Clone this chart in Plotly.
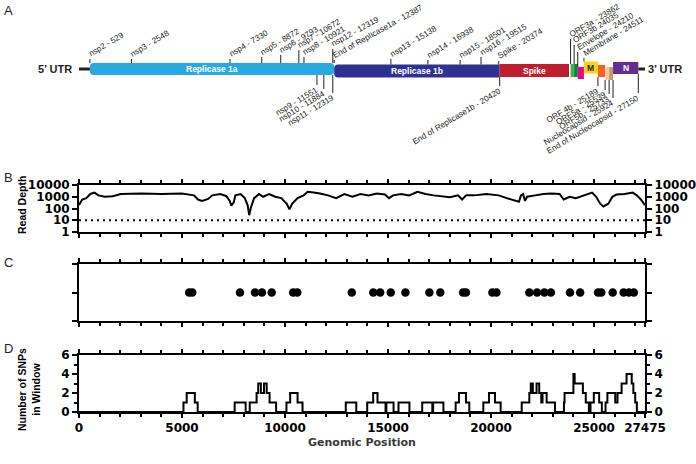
import plotly.graph_objects as go

# ---------------- data ----------------
genome_len = 27475
x_tickvals = [0, 5000, 10000, 15000, 20000, 25000, 27475]
x_ticktext = ["0", "5000", "10000", "15000", "20000", "25000", "27475"]

depth_pos = [0, 158, 355, 552, 749, 947, 1242, 1637, 2031, 3017, 4003, 4989, 5581, 5778, 5975, 6271,
             6468, 6863, 7158, 7316, 7395, 7513, 7592, 7849, 8046, 8184, 8263, 8342, 8500, 8736, 8933,
             9229, 9525, 9821, 10077, 10215, 10353, 10610, 10905, 11102, 11398, 11694, 12088, 12483,
             12877, 13272, 13666, 14060, 14455, 14849, 15046, 15244, 15638, 16032, 16427, 16821, 17216,
             17610, 18004, 18399, 18596, 18793, 19188, 19779, 20371, 20765, 21160, 21357, 21455, 21554,
             21653, 21751, 22146, 22540, 22934, 23329, 23526, 23822, 24118, 24512, 24906, 25104, 25301,
             25459, 25695, 25893, 26090, 26484, 26879, 27076, 27273, 27470]
depth_val = [197, 582, 763, 1718, 2254, 1311, 1000, 1114, 1718, 1914, 1718, 1914, 1311, 582, 444, 648,
             1311, 1718, 1114, 444, 177, 338, 1311, 1718, 763, 197, 27, 115, 763, 1718, 1000,
             1718, 1000, 763, 258, 87, 258, 763, 1311, 2655, 2254, 1914, 1311, 763,
             1718, 1000, 1718, 1311, 1914, 1542, 763, 1311, 1718, 1311, 2655, 1718, 1311,
             1114, 897, 1311, 582, 1311, 1311, 1718, 1311, 763, 444, 377, 1311, 1718,
             444, 1000, 1311, 1718, 1914, 1718, 582, 1000, 763, 1311, 2254, 1000, 258,
             150, 258, 1000, 1542, 1718, 2254, 1311, 582, 197]
depth_threshold = 10

snp_pos = [5350, 5500, 7814, 8544, 8880, 9353, 10398, 10596, 13240, 14285, 14621, 15134, 15844,
           17008, 17540, 18645, 18783, 20066, 20263, 21861, 22236, 22591, 22907, 23834, 24328,
           25196, 25354, 25906, 26439, 26695, 26932]

win_pos = [0, 5071, 5228, 5623, 5761, 7557, 8089, 8287, 8620, 8700, 8830, 8980, 9110, 9250, 9569,
           10070, 10250, 10610, 10850, 12950, 13460, 13990, 14280, 14490, 14880, 14920, 15270,
           15510, 16040, 16660, 17150, 17190, 17690, 18284, 18445, 18785, 18946, 19626, 19901,
           20193, 20468, 21490, 21860, 21930, 22030, 22210, 22340, 22440, 22500, 22700, 23105,
           23540, 23570, 24000, 24060, 24460, 24600, 24750, 24830, 24990, 25250, 25380, 25560,
           25650, 26030, 26140, 26340, 26580, 26830, 26910, 27000, 27080, 27475]
win_count = [0, 1, 2, 1, 0, 1, 0, 1, 2, 3, 2, 3, 2, 1, 0,
             1, 2, 1, 0, 1, 0, 1, 2, 1, 0, 1, 0,
             1, 0, 1, 0, 1, 0, 1, 2, 1, 0, 1, 2,
             1, 0, 1, 2, 3, 2, 3, 2, 1, 2, 1, 0,
             1, 2, 4, 3, 2, 1, 0, 1, 2, 1, 0, 1,
             2, 1, 2, 3, 4, 3, 2, 1, 0, 0]

gene_names = ["Replicase 1a", "Replicase 1b", "Spike", "ORF3a", "ORF3b", "Envelope", "Membrane",
              "ORF4b", "ORF5a", "ORF5b", "Nucleocapsid"]
gene_start = [529, 12387, 20420, 23862, 24035, 24210, 24511, 25189, 25539, 25733, 25924]
gene_end = [12387, 20420, 23786, 24035, 24210, 24511, 25189, 25539, 25733, 25924, 27150]
gene_text = ["Replicase 1a", "Replicase 1b", "Spike", "", "", "", "M", "", "", "", "N"]

top_label_text = ["nsp2 - 529", "nsp3 - 2548", "nsp4 - 7330", "nsp5 - 8872", "nsp6 - 9793",
                  "nsp7 - 10672", "nsp8 - 10921", "nsp12 - 12319", "End of Replicase1a - 12387",
                  "nsp13 - 15138", "nsp14 - 16938", "nsp15 - 18501", "nsp16 - 19515",
                  "Spike - 20374", "ORF3a - 23862", "ORF3b 24035", "Envelope - 24210",
                  "Membrane - 24511"]
top_label_pos = [529, 2548, 7330, 8872, 9793, 10672, 10921, 12319, 12387, 15138, 16938, 18501,
                 19515, 20374, 23862, 24035, 24210, 24511]
bottom_label_text = ["nsp9 - 11551", "nsp10 - 11884", "nsp11 - 12319", "End of Replicase1b - 20420",
                     "ORF 4b - 25189", "ORF5a - 25539", "ORF5b - 25733", "Nucleocapsid - 25924",
                     "End of Nucleocapsid - 27150"]
bottom_label_pos = [11551, 11884, 12319, 20420, 25189, 25539, 25733, 25924, 27150]

# ---------------- style ----------------
W, H = 696, 464
px_left, px_right = 79, 645
xd = [px_left / W, px_right / W]
nt_per_px = genome_len / (px_right - px_left)


def ydom(top, bottom):
    return [(H - bottom) / H, (H - top) / H]


gene_colors = ["#27aae1", "#2e3192", "#be1e2d", "#39b54a", "#00853f", "#ec008c", "#fdd20e",
               "#f26522", "#f7c8a0", "#c69c6d", "#662d91"]
gene_y = [(63, 75), (64.5, 77.5), (64, 77), (64, 77), (64, 77), (67, 79), (61.5, 73.5),
          (65, 77), (67, 80), (67, 80), (62, 74)]
gene_round = [(4, 4), (4, 0), (0, 0), (0, 0), (0, 0), (0, 0), (0, 0), (0, 0), (0, 0), (0, 0), (0, 0)]
gene_text_color = ["white", "white", "white", "", "", "", "#231f20", "", "", "", "white"]
top_label_y = [59, 59, 59, 57, 55, 50, 57, 49, 60, 59, 60, 60, 57, 61, 39, 45, 52, 58]
top_label_angle = [-31, -31, -31, -31, -31, -31, -31, -29, -29, -31, -31, -31, -31, -31, -31, -31, -31, -31]
top_tick_base = [63, 63, 63, 63, 63, 63, 63, 63, 63, 64.5, 64.5, 64.5, 64.5, 64.5, 64, 64, 67, 61.5]
bottom_label_y = [85, 89, 93, 86, 86, 90, 94, 98, 93]
bottom_tick_base = [75, 75, 75, 77, 77, 80, 80, 80, 74]
label_color = "#231f20"
angle = -31

tick_font = dict(family="DejaVu Sans", size=12, color="black", weight="bold")
ann_font = dict(family="Liberation Sans", size=8.2, color=label_color)


def rounded_rect(x0, x1, y0, y1, rl, rr):
    """SVG path of a box whose left/right corners are rounded by rl/rr pixels."""
    lx, rx = rl * nt_per_px, rr * nt_per_px
    p = f"M {x0 + lx},{y0} L {x1 - rx},{y0} "
    p += f"Q {x1},{y0} {x1},{y0 + rr} L {x1},{y1 - rr} Q {x1},{y1} {x1 - rx},{y1} " if rr else f"L {x1},{y0} L {x1},{y1} "
    p += f"L {x0 + lx},{y1} "
    p += f"Q {x0},{y1} {x0},{y1 - rl} L {x0},{y0 + rl} Q {x0},{y0} {x0 + lx},{y0} Z" if rl else f"L {x0},{y1} L {x0},{y0} Z"
    return p


fig = go.Figure()

# Panel B: read depth
fig.add_trace(go.Scatter(x=depth_pos, y=depth_val, mode="lines", line=dict(color="black", width=2),
                         xaxis="x", yaxis="y", hoverinfo="skip"))
fig.add_trace(go.Scatter(x=[0, genome_len], y=[depth_threshold, depth_threshold], mode="lines",
                         line=dict(color="black", width=2, dash="2px,4px"), xaxis="x", yaxis="y",
                         hoverinfo="skip"))
fig.add_trace(go.Scatter(x=[depth_pos[0]], y=[depth_val[0]], mode="markers", marker=dict(opacity=0),
                         xaxis="x", yaxis="y5", hoverinfo="skip"))

# Panel C: SNP positions
fig.add_trace(go.Scatter(x=snp_pos, y=[1] * len(snp_pos), mode="markers",
                         marker=dict(color="black", size=8.5), xaxis="x2", yaxis="y2", hoverinfo="skip"))

# Panel D: SNPs in window
fig.add_trace(go.Scatter(x=win_pos, y=win_count, mode="lines", line=dict(color="black", width=2, shape="hv"),
                         xaxis="x3", yaxis="y3", hoverinfo="skip"))
fig.add_trace(go.Scatter(x=[win_pos[0]], y=[win_count[0]], mode="markers", marker=dict(opacity=0),
                         xaxis="x3", yaxis="y7", hoverinfo="skip"))

# Panel A: genome map helper
fig.add_trace(go.Scatter(x=[gene_start[0]], y=[gene_y[0][0]], mode="markers", marker=dict(opacity=0),
                         xaxis="x4", yaxis="y4", hoverinfo="skip"))

shapes = []
annotations = []

# genome map: UTR lines
shapes.append(dict(type="line", xref="x4", yref="y4", x0=-200, x1=gene_start[0], y0=69, y1=69,
                   line=dict(color=label_color, width=3)))
shapes.append(dict(type="line", xref="x4", yref="y4", x0=gene_end[-1], x1=genome_len, y0=69, y1=69,
                   line=dict(color=label_color, width=3)))
annotations.append(dict(x=74 / W, y=(H - 69) / H, xref="paper", yref="paper", text="5’ UTR", showarrow=False,
                        xanchor="right", yanchor="middle",
                        font=dict(family="Liberation Sans", size=11, color=label_color, weight="bold")))
annotations.append(dict(x=genome_len, y=69, xref="x4", yref="y4", text="3’ UTR", showarrow=False,
                        xanchor="left", yanchor="middle", xshift=1,
                        font=dict(family="Liberation Sans", size=11, color=label_color, weight="bold")))

for i, g in enumerate(gene_names):
    y0, y1 = gene_y[i]
    rl, rr = gene_round[i]
    if rl or rr:
        shapes.append(dict(type="path", xref="x4", yref="y4",
                           path=rounded_rect(gene_start[i], gene_end[i], y0, y1, rl, rr),
                           fillcolor=gene_colors[i], line=dict(width=0)))
    else:
        shapes.append(dict(type="rect", xref="x4", yref="y4", x0=gene_start[i], x1=gene_end[i], y0=y0, y1=y1,
                           fillcolor=gene_colors[i], line=dict(width=0)))
    if gene_text[i]:
        annotations.append(dict(x=(gene_start[i] + gene_end[i]) / 2, y=(y0 + y1) / 2, xref="x4", yref="y4",
                                text=gene_text[i], showarrow=False,
                                font=dict(family="Liberation Sans", size=8.5, color=gene_text_color[i],
                                          weight="bold")))

for i, t in enumerate(top_label_text):
    p = top_label_pos[i]
    shapes.append(dict(type="line", xref="x4", yref="y4", x0=p, x1=p, y0=top_tick_base[i],
                       y1=min(top_label_y[i], top_tick_base[i] - 2),
                       line=dict(color=label_color, width=1)))
    annotations.append(dict(x=p, y=top_label_y[i], xref="x4", yref="y4", text=t, showarrow=False,
                            textangle=top_label_angle[i], xanchor="left", yanchor="bottom", xshift=-4, yshift=-1,
                            font=ann_font, borderpad=0))

for i, t in enumerate(bottom_label_text):
    p = bottom_label_pos[i]
    shapes.append(dict(type="line", xref="x4", yref="y4", x0=p, x1=p, y0=bottom_tick_base[i],
                       y1=bottom_label_y[i], line=dict(color=label_color, width=1)))
    annotations.append(dict(x=p, y=bottom_label_y[i], xref="x4", yref="y4", text=t, showarrow=False,
                            textangle=angle, xanchor="right", yanchor="top", xshift=4, yshift=1,
                            font=ann_font, borderpad=0))

# panel letters and titles
for letter, ypx in [("A", 10), ("B", 177), ("C", 262), ("D", 348)]:
    annotations.append(dict(x=8 / W, y=(H - ypx) / H, xref="paper", yref="paper", text=letter,
                            showarrow=False, xanchor="center", yanchor="middle",
                            font=dict(family="Liberation Sans", size=13, color=label_color)))
annotations.append(dict(x=22 / W, y=(H - 205) / H, xref="paper", yref="paper", text="Read Depth",
                        showarrow=False, textangle=-90, xanchor="center", yanchor="middle",
                        font=dict(family="Liberation Sans", size=10.5, color="black", weight="bold")))
annotations.append(dict(x=29 / W, y=(H - 390) / H, xref="paper", yref="paper",
                        text="Number of SNPs<br>in Window", showarrow=False, textangle=-90,
                        xanchor="center", yanchor="middle",
                        font=dict(family="Liberation Sans", size=10.5, color="black", weight="bold")))
annotations.append(dict(x=(px_left + px_right) / 2 / W, y=(H - 442) / H, xref="paper", yref="paper",
                        text="Genomic Position", showarrow=False, xanchor="center", yanchor="middle",
                        font=dict(family="DejaVu Sans", size=11, color="#3a3a3a", weight="bold")))

axis_common = dict(showline=True, linecolor="black", linewidth=2, ticks="outside", tickcolor="black",
                   tickwidth=2, showgrid=False, zeroline=False, tickfont=tick_font, automargin=False)
x_common = dict(axis_common, domain=xd, range=[0, genome_len], tickmode="array", tickvals=x_tickvals,
                ticktext=x_ticktext, ticklen=4, mirror="ticks",
                minor=dict(tickmode="linear", tick0=0, dtick=1000, ticklen=3, tickwidth=1.5,
                           ticks="outside", tickcolor="black", showgrid=False))

yB = ydom(185, 232)
yC = ydom(264, 321)
yD = ydom(355, 412)
yA = ydom(0, 150)

depth_ticks = [1, 10, 100, 1000, 10000]
count_ticks = [0, 2, 4, 6]

fig.update_layout(
    width=W, height=H, margin=dict(l=0, r=0, t=0, b=0, pad=0), autosize=False,
    paper_bgcolor="white", plot_bgcolor="white", showlegend=False,
    shapes=shapes, annotations=annotations,
    xaxis=dict(x_common, anchor="y", showticklabels=False),
    yaxis=dict(axis_common, domain=yB, type="log", range=[0, 4], tickvals=depth_ticks,
               ticktext=[str(v) for v in depth_ticks], ticklen=5, anchor="x", side="left"),
    yaxis5=dict(axis_common, overlaying="y", type="log", range=[0, 4], tickvals=depth_ticks,
                ticktext=[str(v) for v in depth_ticks], ticklen=5, anchor="x", side="right"),
    xaxis2=dict(x_common, anchor="y2", showticklabels=False),
    yaxis2=dict(axis_common, domain=yC, range=[0, 2], tickvals=[0, 1, 2], showticklabels=False,
                ticklen=5, anchor="x2", mirror="ticks"),
    xaxis3=dict(x_common, anchor="y3", showticklabels=True),
    yaxis3=dict(axis_common, domain=yD, range=[0, 6], tickvals=count_ticks, ticklen=5, anchor="x3",
                side="left", minor=dict(tickmode="linear", tick0=0, dtick=1, ticklen=3, tickwidth=1.5,
                                        ticks="outside", tickcolor="black", showgrid=False)),
    yaxis7=dict(axis_common, overlaying="y3", range=[0, 6], tickvals=count_ticks, ticklen=5, anchor="x3",
                side="right", minor=dict(tickmode="linear", tick0=0, dtick=1, ticklen=3, tickwidth=1.5,
                                         ticks="outside", tickcolor="black", showgrid=False)),
    xaxis4=dict(domain=xd, range=[0, genome_len], visible=False, anchor="y4"),
    yaxis4=dict(domain=yA, range=[150, 0], visible=False, anchor="x4"),
)

fig.write_html("out.html", config={"displayModeBar": False},
               post_script="document.documentElement.style.margin='0';document.body.style.margin='0';"
                           "document.documentElement.style.overflow='hidden';document.body.style.overflow='hidden';")
